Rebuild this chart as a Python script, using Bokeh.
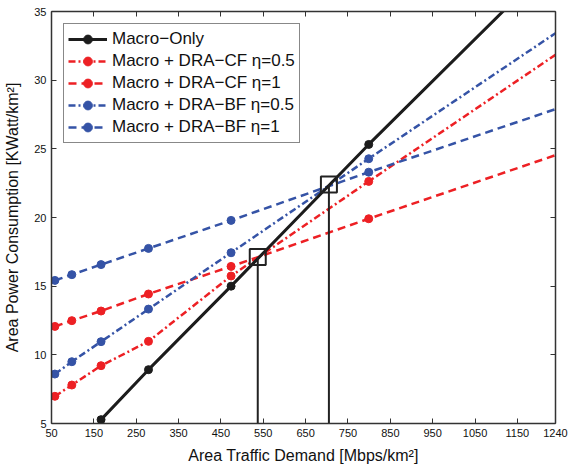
import math
from bokeh.plotting import figure
from bokeh.models import FixedTicker, LinearAxis, Range1d
from bokeh.embed import file_html
from bokeh.resources import INLINE

# ---- data ----
traffic = [58, 98, 167, 279, 474, 799, 1240]
macro_only = [math.nan, math.nan, 5.28, 8.92, 15.0, 25.32, 38.8]
cf_eta05 = [6.98, 7.8, 9.21, 10.98, 15.74, 22.63, 31.85]
cf_eta1 = [12.07, 12.49, 13.19, 14.43, 16.44, 19.91, 24.54]
bf_eta05 = [8.6, 9.5, 10.96, 13.33, 17.44, 24.28, 33.42]
bf_eta1 = [15.42, 15.84, 16.57, 17.75, 19.79, 23.3, 27.89]
cross_x = [537, 705]
cross_y = [17.12, 22.4]
x_ticks = [50, 150, 250, 350, 450, 550, 650, 750, 850, 950, 1050, 1150, 1240]
y_ticks = [5, 10, 15, 20, 25, 30, 35]

RED = "#ED2024"
BLUE = "#3553A6"
BLACK = "#1C1C1C"
FONT = "Liberation Sans"

p = figure(frame_width=504, frame_height=412,
           min_border_left=51, min_border_right=13,
           min_border_top=11, min_border_bottom=44,
           x_range=Range1d(x_ticks[0], x_ticks[-1]),
           y_range=Range1d(y_ticks[0], y_ticks[-1]),
           output_backend="svg", toolbar_location=None)
p.background_fill_color = "white"
p.border_fill_color = "white"
p.outline_line_color = None
p.xgrid.grid_line_color = None
p.ygrid.grid_line_color = None

series = [
    ("Macro\u2212Only", macro_only, BLACK, "solid", 3),
    ("Macro + DRA\u2212CF \u03b7=0.5", cf_eta05, RED, "7 3 2 3", 2.5),
    ("Macro + DRA\u2212CF \u03b7=1", cf_eta1, RED, "8 5", 2.5),
    ("Macro + DRA\u2212BF \u03b7=0.5", bf_eta05, BLUE, "7 3 2 3", 2.5),
    ("Macro + DRA\u2212BF \u03b7=1", bf_eta1, BLUE, "8 5", 2.5),
]

# draw coloured series first, black on top; keep legend order afterwards
for label, ys, color, dash, lw in series[1:] + series[:1]:
    p.line(traffic, ys, line_color=color, line_width=lw, line_dash=dash,
           legend_label=label)
    p.scatter(traffic[:-1], ys[:-1], marker="circle", size=8,
              fill_color=color, line_color=color, legend_label=label)

# vertical guides and crossing boxes
p.segment(x0=cross_x, y0=[y_ticks[0]] * len(cross_x), x1=cross_x, y1=cross_y,
          line_color="#222222", line_width=2)
p.scatter(cross_x, cross_y, marker="square", size=16, fill_color=None,
          line_color="#222222", line_width=2)

leg = p.legend[0]
order = [s[0] for s in series]
leg.items = sorted(leg.items, key=lambda it: order.index(it.label.value))
leg.location = "top_left"
leg.margin = 12
leg.padding = 4
leg.spacing = 0
leg.label_height = 22
leg.glyph_height = 22
leg.glyph_width = 39
leg.label_standoff = 5
leg.label_text_font = FONT
leg.label_text_font_size = "17px"
leg.label_text_color = "#111111"
leg.border_line_color = "#111111"
leg.border_line_width = 1.5
leg.background_fill_alpha = 1.0

# axes
p.xaxis.ticker = FixedTicker(ticks=x_ticks)
p.yaxis.ticker = FixedTicker(ticks=y_ticks)
p.xaxis.axis_label = "Area Traffic Demand [Mbps/km\u00b2]"
p.yaxis.axis_label = "Area Power Consumption [KWatt/km\u00b2]"


def style_axis(ax, labels=True):
    ax.axis_line_color = "#333333"
    ax.axis_line_width = 1.5
    ax.major_tick_line_color = "#333333"
    ax.major_tick_line_width = 1
    ax.major_tick_in = 5
    ax.major_tick_out = 0
    ax.minor_tick_line_color = None
    ax.major_label_text_font = FONT
    ax.axis_label_text_font = FONT
    ax.axis_label_text_font_size = "16px"
    ax.axis_label_text_font_style = "normal"
    ax.axis_label_text_color = "#111111"
    if labels:
        ax.major_label_text_font_size = "11px"
        ax.major_label_text_color = "#111111"
    else:
        ax.major_label_text_color = None
        ax.major_label_text_font_size = "1px"
        ax.major_label_standoff = 0


for ax in p.xaxis:
    style_axis(ax)
    ax.major_label_standoff = 5
    ax.axis_label_standoff = 7
for ax in p.yaxis:
    style_axis(ax)
    ax.major_label_standoff = 5
    ax.axis_label_standoff = 10

top = LinearAxis(ticker=FixedTicker(ticks=x_ticks))
style_axis(top, labels=False)
p.add_layout(top, "above")
right = LinearAxis(ticker=FixedTicker(ticks=y_ticks))
style_axis(right, labels=False)
p.add_layout(right, "right")

open("out.html", "w").write(file_html(p, INLINE))
